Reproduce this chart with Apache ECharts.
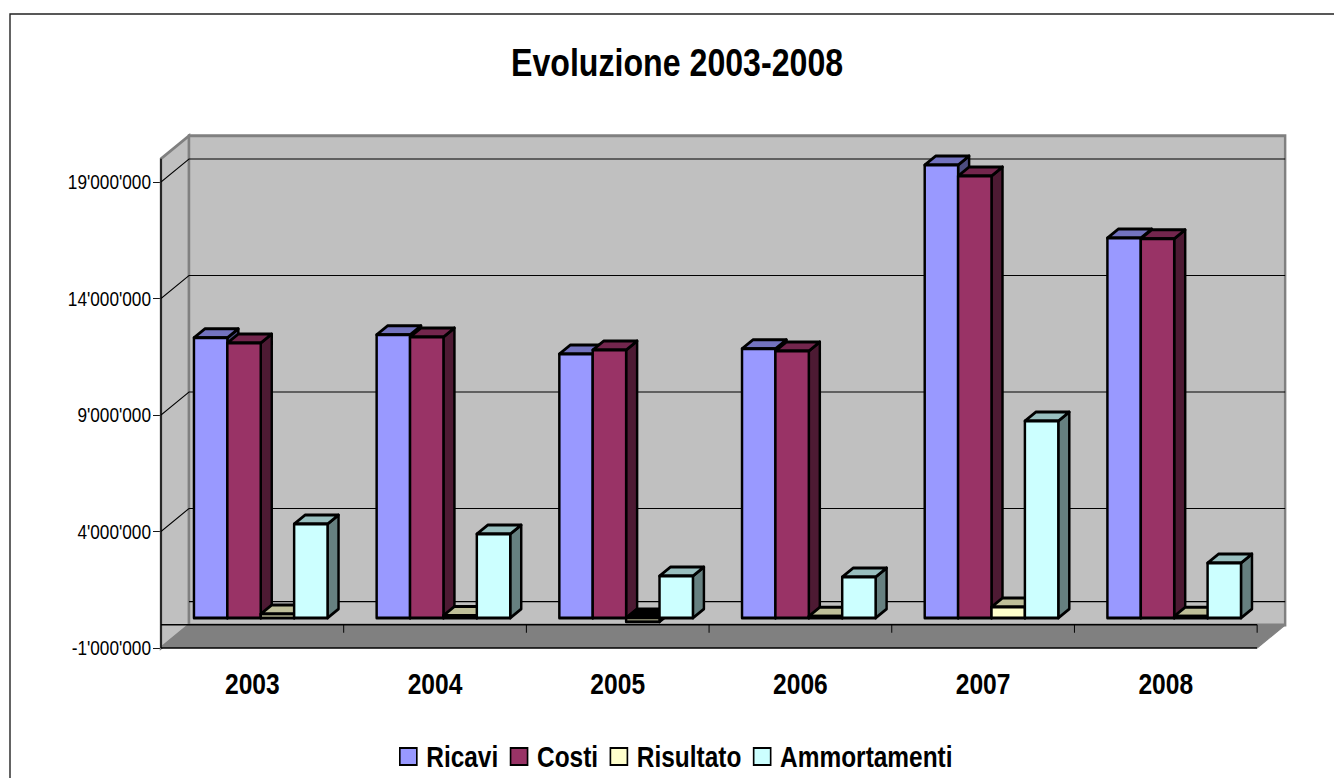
<!DOCTYPE html>
<html><head><meta charset="utf-8">
<style>html,body{margin:0;padding:0;background:#fff;overflow:hidden;width:1334px;height:778px}
#c{width:1626.83px;height:778px;transform:scaleX(.82);transform-origin:0 0}</style>
<script src="https://cdn.jsdelivr.net/npm/echarts@6/dist/echarts.min.js"></script>
</head><body><div id="c"></div>
<script>
const categories = ['2003','2004','2005','2006','2007','2008'];
const ricavi = [12020000,12150000,11330000,11550000,19440000,16300000];
const costi = [11800000,12060000,11500000,11460000,18970000,16270000];
const risultato = [170000,100000,-170000,70000,470000,70000];
const ammortamenti = [4030000,3600000,1800000,1760000,8450000,2360000];
const yTicks = [-1000000,4000000,9000000,14000000,19000000];
const gridValues = [4000000,9000000,14000000,19000000];

const FONT = '"Liberation Sans", Arial, sans-serif';
// the page is narrowed horizontally by .82 (condensed type of the original), so x lengths are widened here
const X = px => px/0.82;
const WALL = [X(28),-23], BAR_SHIFT = [X(8.4),-6.8], BAR_DEPTH = [X(11),-9];
const BAR_BAND = 0.1828;
const fmt = v => String(v).replace(/\B(?=(\d{3})+(?!\d))/g, "'");

function shade(hex, f){
  const n = parseInt(hex.slice(1),16);
  const c = s => Math.round(((n>>s)&255)*f);
  return `rgb(${c(16)},${c(8)},${c(0)})`;
}
function barSeries(name, values, color, idx){
  return {
    name, type:'custom', coordinateSystem:'cartesian2d', z:5+idx,
    itemStyle:{color},
    data: values.map((v,i)=>[i,v]),
    encode:{x:0,y:1},
    renderItem(params, api){
      const cat = api.value(0), v = api.value(1);
      const band = api.size([1,0])[0];
      const w = band*BAR_BAND;
      const p0 = api.coord([cat,0]), p1 = api.coord([cat,v]);
      const x0 = p0[0] + BAR_SHIFT[0] + (idx-2)*w, x1 = x0+w;
      const yb = p0[1] + BAR_SHIFT[1], yt = p1[1] + BAR_SHIFT[1];
      const top = Math.min(yb,yt), bot = Math.max(yb,yt);
      const [dx,dy] = BAR_DEPTH;
      const line = {stroke:'#000', lineWidth:3, lineJoin:'round'};
      const neg = v < 0;
      return {type:'group', children:[
        {type:'polygon', shape:{points:[[x1,top],[x1+dx,top+dy],[x1+dx,bot+dy],[x1,bot]]}, style:{fill:shade(color,.5),...line}},
        {type:'polygon', shape:{points:[[x0,top],[x0+dx,top+dy],[x1+dx,top+dy],[x1,top]]}, style:{fill:neg?'#000':shade(color,.75),...line}},
        {type:'rect', shape:{x:x0,y:top,width:w,height:bot-top}, style:{fill:color,...line}}
      ]};
    }
  };
}
const frame = {
  type:'custom', coordinateSystem:'cartesian2d', z:1, silent:true, legendHoverLink:false,
  data:[[0,0]], encode:{x:0,y:1}, clip:false,
  renderItem(params, api){
    const r = params.coordSys;
    const [dx,dy] = WALL;
    const L=r.x, R=r.x+r.width, T=r.y, B=r.y+r.height;
    const kids = [];
    kids.push({type:'polygon',shape:{points:[[L,T],[L+dx,T+dy],[L+dx,B+dy],[L,B]]},style:{fill:'#C0C0C0',stroke:'#808080',lineWidth:3}});
    kids.push({type:'rect',shape:{x:L+dx,y:T+dy,width:r.width,height:r.height},style:{fill:'#C0C0C0',stroke:'#808080',lineWidth:3}});
    kids.push({type:'polygon',shape:{points:[[L,B],[L+dx,B+dy],[R+dx,B+dy],[R,B]]},style:{fill:'#808080'}});
    kids.push({type:'line',shape:{x1:L,y1:T,x2:L,y2:B},style:{stroke:'#000',lineWidth:1.7}});
    gridValues.forEach(v=>{
      const y = api.coord([0,v])[1];
      kids.push({type:'polyline',shape:{points:[[L,y],[L+dx,y+dy],[R+dx,y+dy]]},style:{stroke:'#000',lineWidth:1.2,fill:null}});
    });
    const y0 = api.coord([0,0])[1];
    kids.push({type:'line',shape:{x1:L+dx,y1:y0+dy,x2:R+dx,y2:y0+dy},style:{stroke:'#000',lineWidth:1.2}});
    kids.push({type:'line',shape:{x1:L,y1:y0,x2:R,y2:y0},style:{stroke:'#000',lineWidth:1.5}});
    kids.push({type:'line',shape:{x1:L,y1:B,x2:R,y2:B},style:{stroke:'#000',lineWidth:1.5}});
    kids.push({type:'line',shape:{x1:R,y1:B,x2:R+dx,y2:B+dy},style:{stroke:'#808080',lineWidth:1.2}});
    categories.forEach((c,i)=>{
      const x = L + r.width*(i+1)/categories.length;
      kids.push({type:'line',shape:{x1:x,y1:y0,x2:x,y2:y0+8},style:{stroke:'#000',lineWidth:1.2}});
    });
    return {type:'group',children:kids};
  }
};
const chart = echarts.init(document.getElementById('c'),null,{renderer:'svg'});
chart.setOption({
  animation:false, backgroundColor:'#fff',
  graphic:[{type:'rect',z:-1,silent:true,shape:{x:X(10),y:14,width:X(1340),height:780},style:{fill:'none',stroke:'#222',lineWidth:1.7}}],
  title:{text:'Evoluzione 2003-2008',left:X(511),top:43,padding:0,
    textStyle:{fontFamily:FONT,fontWeight:'bold',fontSize:39.2,color:'#000'}},
  legend:{left:X(399),top:741.5,padding:0,itemWidth:X(17),itemHeight:17,itemGap:X(11.5),icon:'rect',selectedMode:false,
    itemStyle:{borderColor:'#000',borderWidth:2},
    textStyle:{fontFamily:FONT,fontWeight:'bold',fontSize:29.8,color:'#000',padding:[0,0,0,6.5]},
    data:['Ricavi','Costi','Risultato','Ammortamenti']},
  grid:{left:X(161),right:X(77),top:158.7,bottom:130},
  xAxis:{type:'category',data:categories,position:'bottom',
    axisLine:{show:false},
    axisTick:{show:true,length:8,lineStyle:{color:'#555',width:1.2},alignWithLabel:false},
    axisLabel:{fontFamily:FONT,fontWeight:'bold',fontSize:30,color:'#000',margin:20.5},
    splitLine:{show:false}},
  yAxis:{type:'value',min:-1000000,max:20000000,interval:1000000,
    axisLine:{show:false},
    axisTick:{show:true,length:X(8),customValues:yTicks,lineStyle:{color:'#000'}},
    axisLabel:{customValues:yTicks,formatter:fmt,fontFamily:FONT,fontSize:21,color:'#000',margin:X(10)},
    splitLine:{show:false}},
  series:[frame,
    barSeries('Ricavi',ricavi,'#9999FF',0),
    barSeries('Costi',costi,'#993366',1),
    barSeries('Risultato',risultato,'#FFFFCC',2),
    barSeries('Ammortamenti',ammortamenti,'#CCFFFF',3)]
});
</script></body></html>
